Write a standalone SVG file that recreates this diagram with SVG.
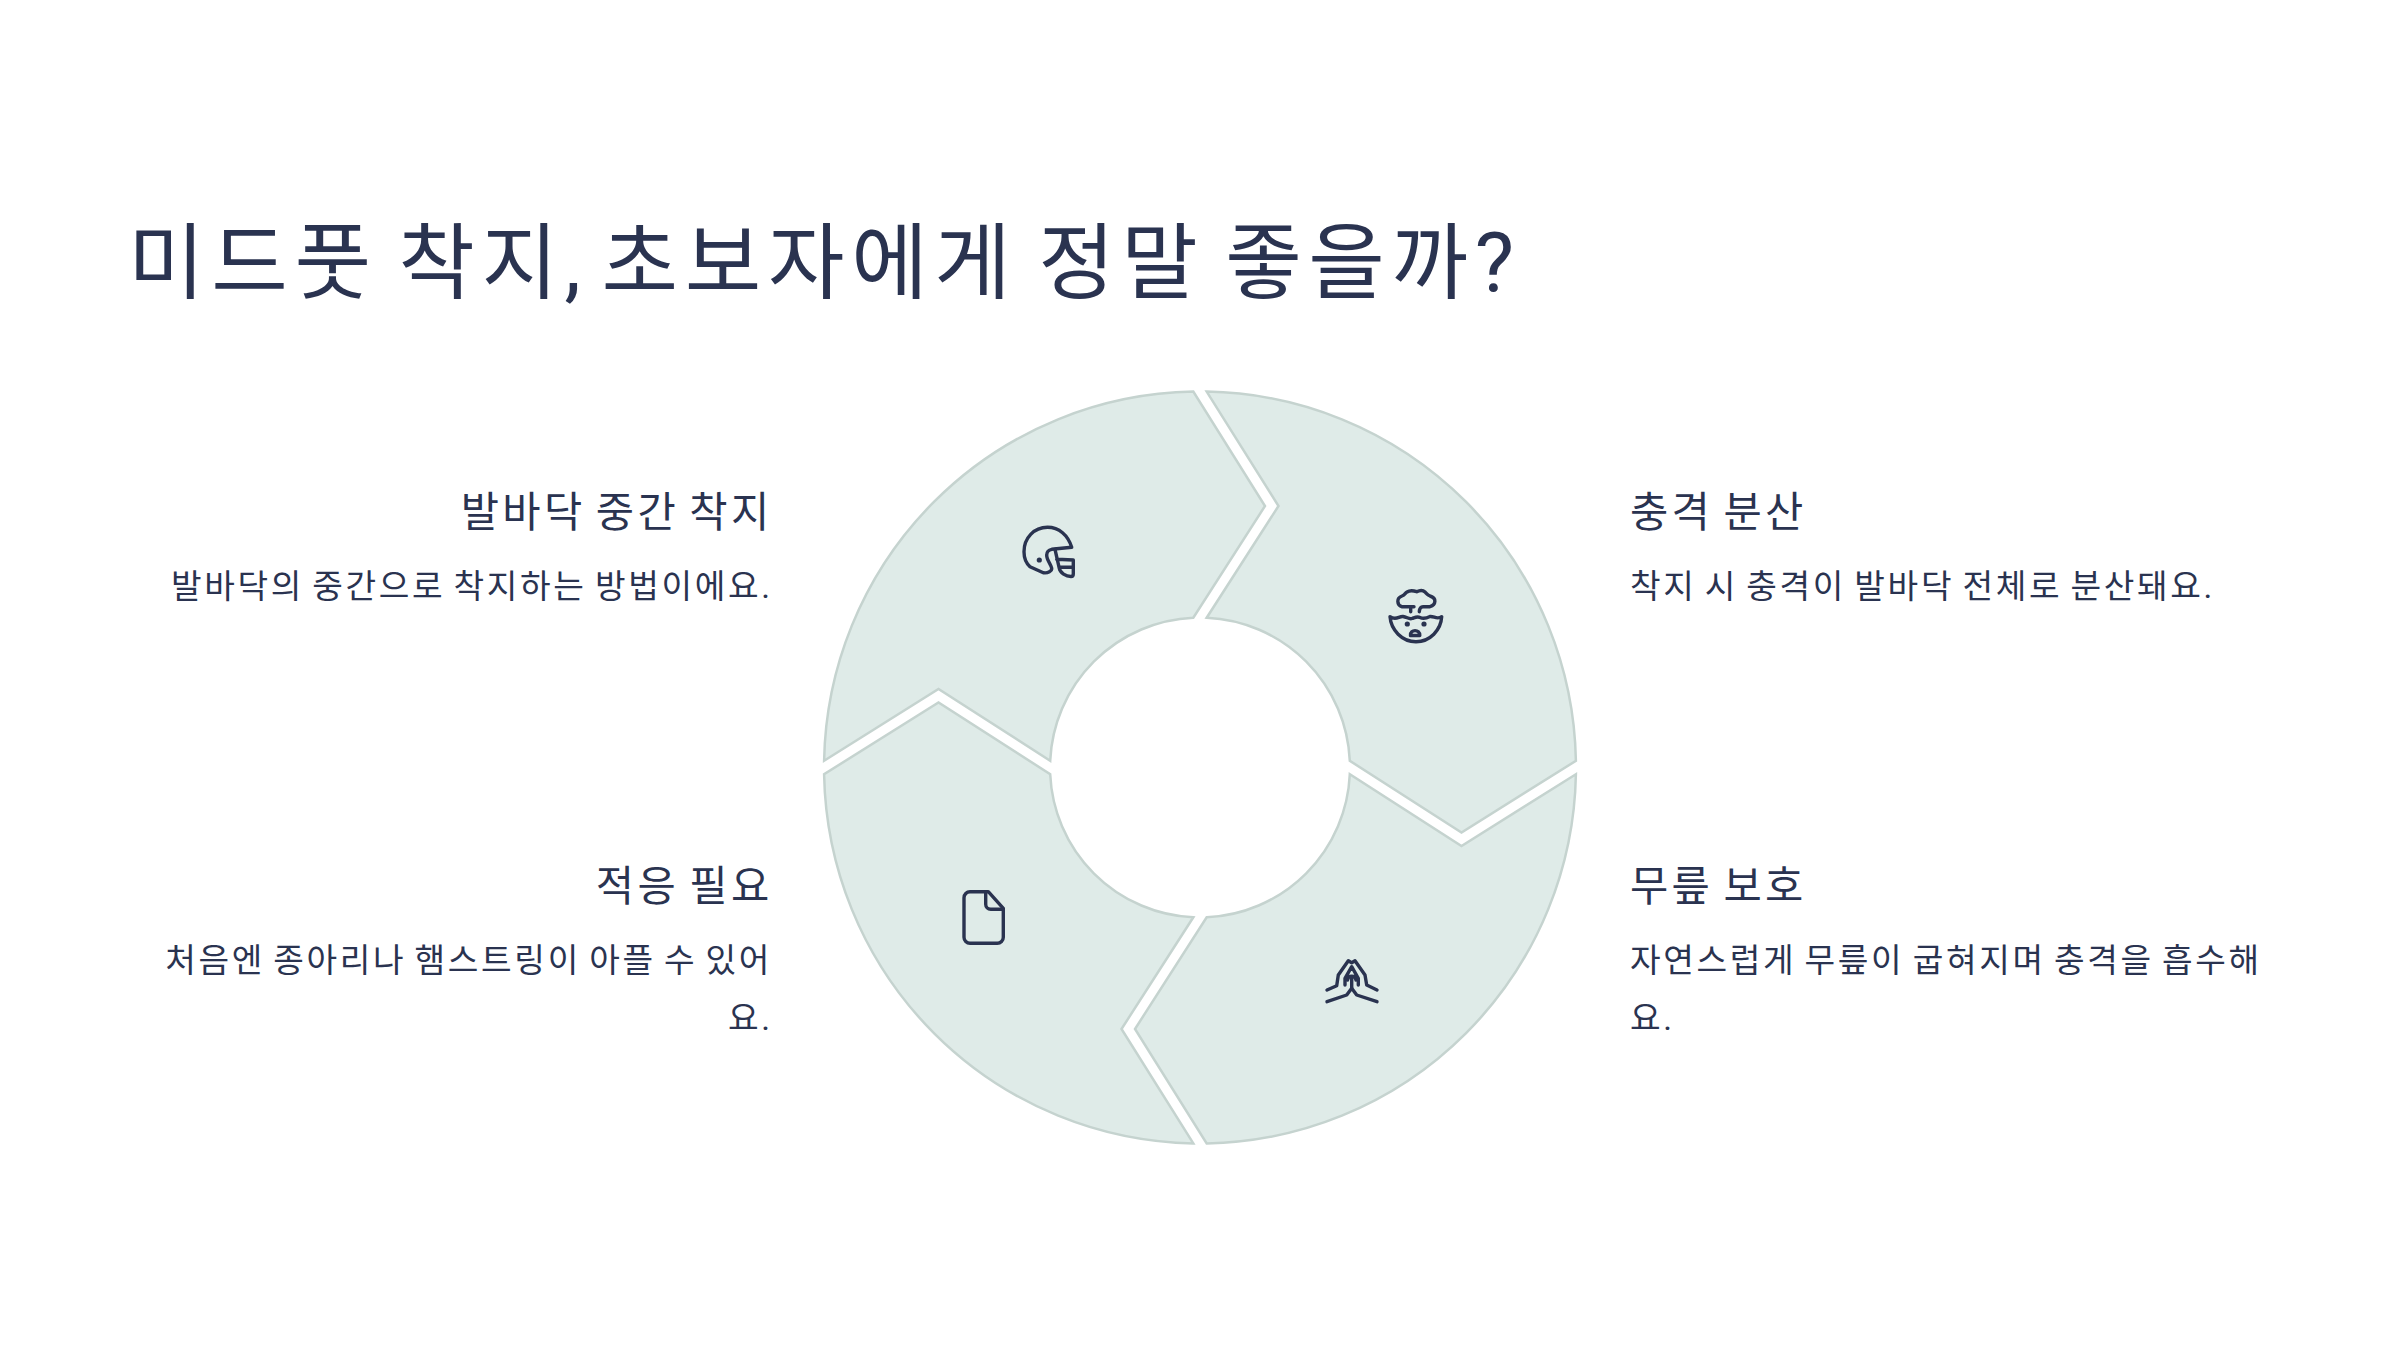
<svg xmlns="http://www.w3.org/2000/svg" width="2400" height="1350" viewBox="0 0 2400 1350">
<style>
text{font-family:"Roboto","Noto Sans CJK KR",sans-serif;fill:#2a3350;letter-spacing:.08em;word-spacing:-.08em}
.p{letter-spacing:0}
.t{font-size:83.2px}
.h{font-size:41.6px}
.b{font-size:33.28px}
.e{text-anchor:end}
.s{fill:#dfebe8;stroke:#c5d3cf;stroke-width:2.5}
.i{fill:none;stroke:#2a3350;stroke-width:3.4;stroke-linecap:round;stroke-linejoin:round}
.d{fill:#2a3350}
</style>
<rect width="2400" height="1350" fill="#ffffff"/>
<text id="title" class="t" x="128" y="292">미드풋 착지<tspan class="p">,</tspan> 초보자에게 정말 좋을까<tspan class="p">?</tspan></text>
<g id="node-tl">
<path class="s" d="M824.1 760.8L938.5 689L1050.2 760.8A150 150 0 0 1 1193.3 617.7L1265 506L1193.3 391.6A376 376 0 0 0 824.1 760.8Z"/>
<path class="i" d="M1071.7 547.3C1068 535 1059 527.3 1047.5 527.3C1034 527.3 1024 538 1024 551.7C1024 558 1026 563 1030 566.7L1043.3 572.7C1048 573.5 1052 571 1051.7 568.3C1051 564 1046.5 560 1046.7 555C1046.8 551.5 1049 549.8 1051.7 549.3L1071.7 547.3Z"/>
<path class="i" d="M1055 549.3L1059.3 568.3C1060 573 1066 576.5 1071 576.5Q1073.3 576.5 1073.3 574V560L1056.7 559.3M1060 567.3H1073.3"/>
<circle class="d" cx="1039.3" cy="560" r="2.6"/>
<text class="h e" x="772.5" y="527">발바닥 중간 착지</text>
<text class="b e" x="770" y="598">발바닥의 중간으로 착지하는 방법이에요<tspan class="p">.</tspan></text>
</g>
<g id="node-tr">
<path class="s" d="M1206.7 391.6L1278.5 506L1206.7 617.7A150 150 0 0 1 1349.8 760.8L1461.5 832.5L1575.9 760.8A376 376 0 0 0 1206.7 391.6Z"/>
<path class="i" d="M1390 616.7C1396 621 1399 616 1403 616.5C1407 617 1409 619.5 1412 618.5C1415 617.5 1417 616 1420 617.5C1424 619.5 1427 618 1430 616.5C1434 616 1437 620 1441.7 616.7C1441 630 1430 641.7 1416 641.7C1402 641.7 1391 630 1390 616.7Z"/>
<path class="i" d="M1410.7 611.7V606.7H1401.7C1397 605 1396 598 1402 596C1405 595 1405 593 1407 592C1410 590 1412 590 1416.7 591.7C1420 590 1423 590 1425 592C1427 594 1427 595 1430 596C1437 598 1436 605 1430 606.7H1423C1420 606.7 1419.5 609 1419.3 611.7M1406 606.7H1414"/>
<circle class="d" cx="1407.3" cy="624" r="2.6"/>
<circle class="d" cx="1424" cy="624" r="2.6"/>
<path class="i" d="M1410.5 635.5C1410 629 1420 629 1419.8 635.5Z"/>
<text class="h" x="1630" y="527">충격 분산</text>
<text class="b" x="1630" y="598">착지 시 충격이 발바닥 전체로 분산돼요<tspan class="p">.</tspan></text>
</g>
<g id="node-br">
<path class="s" d="M1575.9 774.2L1461.5 846L1349.8 774.2A150 150 0 0 1 1206.7 917.3L1135 1029L1206.7 1143.4A376 376 0 0 0 1575.9 774.2Z"/>
<path class="i" d="M1327 1001.7L1346.7 995L1351.7 988.3L1356.7 995L1377 1001.7"/>
<path class="i" d="M1327 990L1336.7 985.7L1338.3 975L1348.3 960.7L1351.7 962.7L1355 960.7L1365 975L1366.7 985L1377 990"/>
<path class="i" d="M1345 985V978.3L1351.7 966.7L1358.3 978.3V985M1351.7 988V977M1347.5 980C1348 975 1355.5 975 1356 980"/>
<text class="h" x="1630" y="901">무릎 보호</text>
<text class="b" x="1630" y="971.5">자연스럽게 무릎이 굽혀지며 충격을 흡수해</text>
<text class="b" x="1630" y="1030">요<tspan class="p">.</tspan></text>
</g>
<g id="node-bl">
<path class="s" d="M1193.3 1143.4L1121.5 1029L1193.3 917.3A150 150 0 0 1 1050.2 774.2L938.5 702.5L824.1 774.2A376 376 0 0 0 1193.3 1143.4Z"/>
<path class="i" d="M970 891.7H988.3L1003.3 908.3V937.3A6 6 0 0 1 997.3 943.3H970A6 6 0 0 1 964 937.3V897.7A6 6 0 0 1 970 891.7Z"/>
<path class="i" d="M985.7 891.7V904.3A5 5 0 0 0 990.7 909.3H1003.3"/>
<text class="h e" x="772.5" y="901">적응 필요</text>
<text class="b e" x="772" y="971.5">처음엔 종아리나 햄스트링이 아플 수 있어</text>
<text class="b e" x="770" y="1030">요<tspan class="p">.</tspan></text>
</g>
<g id="connectors"></g>
</svg>
